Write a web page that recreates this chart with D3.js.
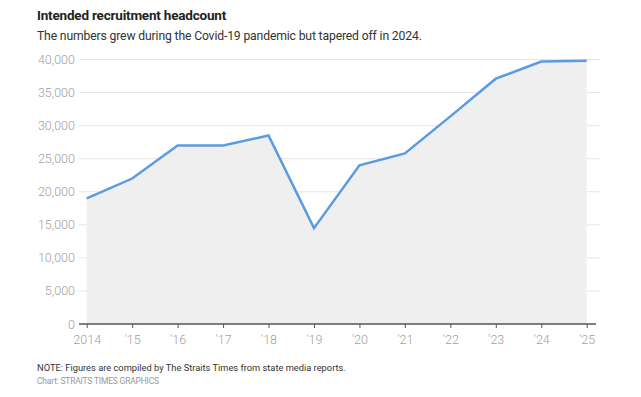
<!DOCTYPE html>
<html>
<head>
<meta charset="utf-8">
<script src="https://cdn.jsdelivr.net/npm/d3@7"></script>
<style>
  body { margin: 0; background: #fff; }
  text { font-family: "Roboto", "Liberation Sans", sans-serif; }
</style>
</head>
<body>
<div id="chart"></div>
<script>
// data
var years = [2014, 2015, 2016, 2017, 2018, 2019, 2020, 2021, 2022, 2023, 2024, 2025];
var headcount = [19000, 22000, 27000, 27000, 28500, 14500, 24000, 25800, 31400, 37100, 39700, 39800];
var yTicks = [0, 5000, 10000, 15000, 20000, 25000, 30000, 35000, 40000];
var xTickLabels = ["2014", "'15", "'16", "'17", "'18", "'19", "'20", "'21", "'22", "'23", "'24", "'25"];

var svgWidth = 641;
var svgHeight = 397;

var svg = d3.select("#chart")
  .append("svg")
  .attr("width", svgWidth)
  .attr("height", svgHeight);

var xScale = d3.scaleLinear()
  .domain([2014, 2025])
  .range([86.7, 586.7]);

var yScale = d3.scaleLinear()
  .domain([0, 40000])
  .range([324, 59.5]);

var data = years.map(function (y, i) { return { year: y, value: headcount[i] }; });

// title + subtitle
svg.append("text")
  .attr("x", 37).attr("y", 20)
  .attr("font-size", 13.5).attr("font-weight", "bold")
  .attr("fill", "#222")
  .attr("letter-spacing", -0.2)
  .text("Intended recruitment headcount");

svg.append("text")
  .attr("x", 37).attr("y", 40)
  .attr("font-size", 12.2)
  .attr("fill", "#333")
  .attr("letter-spacing", -0.15)
  .text("The numbers grew during the Covid-19 pandemic but tapered off in 2024.");

// gridlines
svg.append("g")
  .selectAll("line")
  .data(yTicks.filter(function (d) { return d > 0; }))
  .enter()
  .append("line")
  .attr("x1", 79).attr("x2", 600)
  .attr("y1", function (d) { return yScale(d); })
  .attr("y2", function (d) { return yScale(d); })
  .attr("stroke", "#e6e6e6")
  .attr("stroke-width", 1);

// area
var area = d3.area()
  .x(function (d) { return xScale(d.year); })
  .y0(yScale(0))
  .y1(function (d) { return yScale(d.value); });

svg.append("path")
  .datum(data)
  .attr("d", area)
  .attr("fill", "#efefef");

// y axis labels
var leftAxis = d3.axisLeft(yScale)
  .tickValues(yTicks)
  .tickFormat(d3.format(","))
  .tickSize(0)
  .tickPadding(0);

var yAxisG = svg.append("g")
  .attr("transform", "translate(75,0)")
  .call(leftAxis);
yAxisG.select(".domain").remove();
yAxisG.selectAll("text")
  .attr("font-size", 12.5)
  .attr("fill", "#a0a0a0")
  .attr("font-family", "Roboto, sans-serif")
  .style("font-weight", 300);

// x axis
var bottomAxis = d3.axisBottom(xScale)
  .tickValues(years)
  .tickFormat(function (d, i) { return xTickLabels[i]; })
  .tickSizeInner(4)
  .tickSizeOuter(0)
  .tickPadding(7);

var xAxisG = svg.append("g")
  .attr("transform", "translate(0," + yScale(0) + ")")
  .call(bottomAxis);
xAxisG.select(".domain")
  .attr("d", "M79,0H596")
  .attr("stroke", "#555")
  .attr("stroke-width", 1.3);
xAxisG.selectAll(".tick line")
  .attr("stroke", "#555");
xAxisG.selectAll("text")
  .attr("font-size", 12.5)
  .attr("fill", "#a0a0a0")
  .attr("font-family", "Roboto, sans-serif")
  .style("font-weight", 300);

// line
var line = d3.line()
  .x(function (d) { return xScale(d.year); })
  .y(function (d) { return yScale(d.value); });

svg.append("path")
  .datum(data)
  .attr("d", line)
  .attr("fill", "none")
  .attr("stroke", "#5b9be0")
  .attr("stroke-width", 2.5)
  .attr("stroke-linejoin", "miter");

// footer
svg.append("text")
  .attr("x", 37).attr("y", 371)
  .attr("font-size", 9.3)
  .attr("fill", "#333")
  .text("NOTE: Figures are compiled by The Straits Times from state media reports.");

svg.append("text")
  .attr("x", 37).attr("y", 384)
  .attr("font-size", 8.5)
  .attr("fill", "#999")
  .attr("letter-spacing", -0.2)
  .text("Chart: STRAITS TIMES GRAPHICS");
</script>
</body>
</html>
